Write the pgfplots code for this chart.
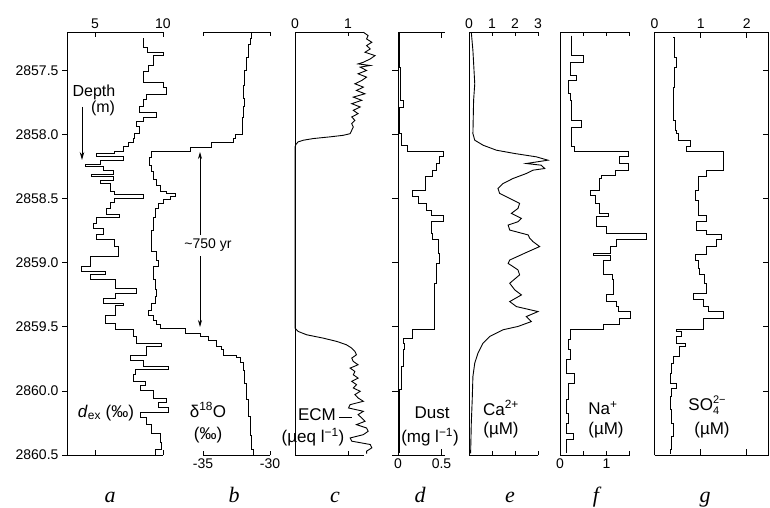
\documentclass[border=0pt]{standalone}
\usepackage{fontspec}
\setmainfont{Liberation Sans}
\newfontfamily\letterfont{Liberation Serif}
\usepackage{pgfplots}
\pgfplotsset{compat=1.18}
\usetikzlibrary{arrows.meta}

% one strip of the core: depth down, 1pt = 1px of the reference
\pgfplotsset{
  core/.style={
    scale only axis, height=423pt, anchor=south west,
    ymin=2857.2, ymax=2860.5, y dir=reverse,
    ytick={2857.5,2858,2858.5,2859,2859.5,2860,2860.5},
    yticklabels={},
    axis line style={draw=none},
    tick style={black, line width=0.8pt},
    major tick length=4pt,
    tick label style={font=\fontsize{14}{14}\selectfont},
    /pgf/number format/assume math mode=true,
    clip=false,
    every axis plot/.append style={black, line width=0.9pt, mark=none},
  },
}
\tikzset{
  frame/.style={line width=0.9pt},
  lab/.style={font=\fontsize{17}{19}\selectfont, inner sep=0pt},
  letter/.style={font=\letterfont\itshape\fontsize{22}{22}\selectfont, anchor=base, inner sep=0pt},
}
\newcommand\stripleft{\draw[frame] (rel axis cs:0,0) -- (rel axis cs:0,1);}
\newcommand\striptb{\draw[frame] (rel axis cs:0,0) -- (rel axis cs:1,0);
  \draw[frame] (rel axis cs:0,1) -- (rel axis cs:1,1);}

\begin{document}
\begin{tikzpicture}
\useasboundingbox (0,0) rectangle (770pt,507pt);

% a: deuterium excess
\begin{axis}[core, at={(67pt,52pt)}, width=96pt, xmin=2.94, xmax=10,
  xtick={5,10}, xticklabels={5,10}, xticklabel pos=upper,
  ytick pos=left, ytick align=outside, major tick length=5pt,
  yticklabels={2857.5,2858.0,2858.5,2859.0,2859.5,2860.0,2860.5}]
\stripleft \striptb
\addplot[const plot] coordinates {
(8.54,2857.25) (8.54,2857.32) (8.85,2857.36) (10.0,2857.385) (9.27,2857.46)
(8.90,2857.51) (8.54,2857.59) (10.0,2857.63) (10.24,2857.69) (8.78,2857.73)
(8.54,2857.78) (8.29,2857.83) (9.51,2857.87) (8.54,2857.90) (8.05,2857.94)
(8.29,2857.99) (7.93,2858.03) (7.80,2858.06) (7.44,2858.09) (7.07,2858.13)
(6.46,2858.15) (5.12,2858.17) (7.07,2858.20) (5.37,2858.23) (4.27,2858.25)
(5.61,2858.28) (6.34,2858.31) (4.76,2858.33) (6.34,2858.36) (5.37,2858.385)
(6.10,2858.44) (6.46,2858.47) (8.54,2858.50) (6.46,2858.53) (6.10,2858.58)
(5.85,2858.62) (6.83,2858.65) (5.12,2858.69) (4.88,2858.73) (5.61,2858.78)
(5.12,2858.82) (6.46,2858.87) (6.72,2858.95) (4.63,2859.03) (4.02,2859.07)
(5.74,2859.095) (4.63,2859.13) (6.47,2859.20) (8.06,2859.24) (6.47,2859.28)
(5.61,2859.32) (7.08,2859.33) (6.47,2859.41) (5.74,2859.47) (6.47,2859.52)
(7.82,2859.575) (8.06,2859.63) (9.90,2859.65) (8.80,2859.72) (7.57,2859.76)
(8.55,2859.81) (10.39,2859.835) (7.94,2859.87) (7.82,2859.925) (8.68,2859.96)
(8.31,2860.00) (9.29,2860.055) (10.27,2860.09) (9.66,2860.13) (10.39,2860.17)
(8.31,2860.21) (8.80,2860.26) (9.17,2860.33) (9.78,2860.40) (9.90,2860.46)
(9.41,2860.50)};
\end{axis}

% b: delta 18O
\begin{axis}[core, at={(203pt,52pt)}, width=67pt, xmin=-35, xmax=-30,
  xtick={-35,-30}, xticklabels={-35,-30}, xticklabel pos=lower, ytick=\empty]
\striptb
\addplot[const plot] coordinates {
(-31.37,2857.21) (-31.37,2857.25) (-31.49,2857.30) (-31.62,2857.40) (-31.74,2857.50)
(-31.87,2857.62) (-31.99,2857.72) (-31.87,2857.78) (-31.99,2857.87) (-32.05,2858.00)
(-32.61,2858.03) (-32.74,2858.06) (-34.35,2858.10) (-35.97,2858.13) (-38.83,2858.18)
(-38.96,2858.24) (-38.83,2858.29) (-38.71,2858.35) (-38.46,2858.40) (-38.21,2858.44)
(-37.70,2858.46) (-37.09,2858.48) (-37.46,2858.51) (-37.96,2858.54) (-38.33,2858.58)
(-38.58,2858.65) (-38.71,2858.75) (-38.83,2858.91) (-38.46,2858.98) (-38.33,2859.03)
(-38.71,2859.13) (-38.58,2859.21) (-38.46,2859.26) (-38.58,2859.32) (-38.83,2859.37)
(-39.08,2859.41) (-38.71,2859.45) (-38.46,2859.48) (-38.21,2859.51) (-36.34,2859.55)
(-35.22,2859.575) (-34.60,2859.61) (-33.98,2859.65) (-33.61,2859.68) (-33.48,2859.72)
(-32.49,2859.74) (-32.24,2859.78) (-31.99,2859.84) (-31.87,2859.94) (-31.74,2860.07)
(-31.62,2860.20) (-31.49,2860.35) (-31.37,2860.46) (-31.24,2860.50)};
\end{axis}

% c: ECM
\begin{axis}[core, at={(295pt,52pt)}, width=68.9pt, xmin=0, xmax=1.3,
  xtick={0,1}, xticklabels={0,1}, xticklabel pos=upper, ytick=\empty]
\stripleft \striptb
\addplot[sharp plot] coordinates {
(1.29,2857.202) (1.38,2857.228) (1.35,2857.254) (1.45,2857.280) (1.35,2857.306)
(1.42,2857.332) (1.32,2857.358) (1.51,2857.384) (1.42,2857.410) (1.29,2857.436)
(1.19,2857.449) (1.42,2857.461) (1.23,2857.474) (1.35,2857.500) (1.19,2857.526)
(1.35,2857.552) (1.26,2857.578) (1.13,2857.604) (1.29,2857.630) (1.16,2857.656)
(1.32,2857.682) (1.10,2857.708) (1.26,2857.733) (1.07,2857.759) (1.23,2857.785)
(1.10,2857.811) (1.19,2857.837) (1.07,2857.863) (1.13,2857.889) (1.07,2857.915)
(1.10,2857.941) (1.07,2857.967) (1.04,2857.993) (0.91,2858.006) (0.66,2858.018)
(0.35,2858.031) (0.16,2858.044) (0.06,2858.057) (0.02,2858.075) (0,2858.096)
(0,2859.51) (0.06,2859.536) (0.22,2859.562) (0.53,2859.588) (0.79,2859.614)
(0.97,2859.640) (1.07,2859.666) (1.13,2859.692) (1.16,2859.718) (1.07,2859.744)
(1.10,2859.770) (1.19,2859.796) (1.04,2859.822) (1.13,2859.848) (1.10,2859.874)
(1.19,2859.900) (1.07,2859.925) (1.16,2859.951) (1.10,2859.977) (1.23,2860.003)
(1.13,2860.029) (1.19,2860.055) (1.29,2860.081) (1.04,2860.107) (1.01,2860.133)
(1.29,2860.159) (1.19,2860.185) (1.26,2860.211) (1.32,2860.237) (1.16,2860.263)
(1.35,2860.289) (1.38,2860.315) (1.29,2860.341) (1.04,2860.367) (1.07,2860.392)
(1.42,2860.418) (1.45,2860.444) (1.35,2860.470) (1.35,2860.490)};
\end{axis}

% d: dust
\begin{axis}[core, at={(398pt,52pt)}, width=47pt, xmin=0, xmax=0.54,
  xtick={0,0.5}, xticklabels={0,0.5}, xticklabel pos=lower,
  ytick pos=left, ytick align=outside, major tick length=6pt]
\stripleft \striptb
\addplot[const plot] coordinates {
(0.02,2857.202) (0.02,2857.474) (0.027,2857.733) (0.057,2857.785) (0.02,2857.993)
(0.04,2858.083) (0.11,2858.135) (0.52,2858.174) (0.48,2858.226) (0.44,2858.278)
(0.40,2858.330) (0.31,2858.433) (0.17,2858.485) (0.23,2858.537) (0.33,2858.589)
(0.38,2858.628) (0.52,2858.680) (0.38,2858.771) (0.40,2858.822) (0.46,2858.926)
(0.48,2859.005) (0.44,2859.160) (0.42,2859.523) (0.17,2859.588) (0.06,2859.627)
(0.077,2859.679) (0.06,2859.809) (0.04,2859.990) (0.015,2860.488)};
\end{axis}

% e: calcium
\begin{axis}[core, at={(469pt,52pt)}, width=69pt, xmin=0, xmax=3,
  xtick={0,1,2,3}, xticklabels={0,1,2,3}, xticklabel pos=upper, ytick=\empty]
\stripleft \striptb
\addplot[sharp plot] coordinates {
(0.10,2857.202) (0.17,2857.345) (0.25,2857.604) (0.20,2857.733) (0.17,2857.993)
(0.25,2858.044) (0.61,2858.083) (1.19,2858.122) (1.99,2858.148) (2.93,2858.174)
(3.43,2858.200) (2.49,2858.226) (3.14,2858.239) (3.29,2858.265) (2.78,2858.278)
(2.49,2858.304) (1.91,2858.343) (1.48,2858.382) (1.26,2858.420) (1.33,2858.459)
(1.77,2858.498) (2.20,2858.537) (2.13,2858.576) (1.84,2858.615) (2.28,2858.654)
(2.13,2858.680) (1.70,2858.706) (1.77,2858.745) (2.57,2858.783) (2.64,2858.809)
(2.78,2858.835) (3.07,2858.874) (2.49,2858.920) (1.77,2858.979) (1.70,2859.005)
(2.13,2859.056) (2.20,2859.095) (1.77,2859.160) (1.99,2859.212) (2.28,2859.251)
(1.77,2859.303) (2.06,2859.342) (3.00,2859.381) (2.49,2859.420) (2.71,2859.459)
(2.13,2859.497) (1.48,2859.523) (0.90,2859.575) (0.61,2859.627) (0.39,2859.705)
(0.25,2859.783) (0.17,2859.887) (0.14,2860.068) (0.10,2860.250) (0.07,2860.488)};
\end{axis}

% f: sodium
\begin{axis}[core, at={(560pt,52pt)}, width=69.6pt, xmin=0, xmax=1.5,
  xtick={0,0.5,1,1.5}, xticklabels={0,,1,}, xticklabel pos=lower, ytick=\empty]
\stripleft \striptb
\addplot[const plot] coordinates {
(0.25,2857.228) (0.25,2857.384) (0.50,2857.436) (0.22,2857.539) (0.36,2857.578)
(0.18,2857.682) (0.22,2857.733) (0.25,2857.889) (0.47,2857.941) (0.25,2858.096)
(0.32,2858.135) (1.47,2858.174) (1.29,2858.226) (1.47,2858.278) (1.19,2858.317)
(0.90,2858.343) (0.86,2858.433) (0.65,2858.472) (0.76,2858.537) (0.86,2858.615)
(1.04,2858.641) (0.79,2858.719) (1.01,2858.771) (1.87,2858.822) (1.22,2858.874)
(1.08,2858.926) (0.72,2858.940) (1.08,2858.979) (0.94,2859.095) (1.12,2859.134)
(1.15,2859.251) (1.01,2859.303) (1.22,2859.342) (1.26,2859.381) (1.51,2859.433)
(1.29,2859.484) (0.94,2859.523) (0.22,2859.601) (0.18,2859.679) (0.22,2859.757)
(0.14,2859.861) (0.32,2859.938) (0.18,2860.068) (0.14,2860.172) (0.18,2860.250)
(0.14,2860.328) (0.29,2860.380) (0.14,2860.488)};
\end{axis}

% g: sulphate
\begin{axis}[core, at={(654.5pt,52pt)}, width=114pt, xmin=0, xmax=2.47,
  xtick={0,1,2}, xticklabels={0,1,2}, xticklabel pos=upper,
  ytick pos=right, major tick length=6pt]
\stripleft \striptb
\draw[frame] (rel axis cs:1,0) -- (rel axis cs:1,1);
\addplot[const plot] coordinates {
(0.41,2857.241) (0.41,2857.241) (0.44,2857.397) (0.48,2857.474) (0.44,2857.630)
(0.41,2857.889) (0.46,2857.967) (0.48,2857.993) (0.52,2858.044) (0.77,2858.096)
(0.70,2858.135) (1.49,2858.278) (1.13,2858.330) (0.95,2858.433) (0.88,2858.511)
(0.95,2858.628) (1.13,2858.680) (0.91,2858.745) (1.13,2858.783) (1.45,2858.822)
(1.35,2858.874) (1.13,2858.939) (0.88,2858.979) (0.95,2859.043) (0.98,2859.095)
(1.09,2859.160) (1.13,2859.238) (0.84,2859.290) (1.06,2859.342) (1.17,2859.381)
(1.49,2859.433) (1.06,2859.523) (0.48,2859.536) (0.59,2859.575) (0.48,2859.627)
(0.66,2859.653) (0.55,2859.731) (0.41,2859.783) (0.37,2859.861) (0.34,2859.938)
(0.48,2859.977) (0.37,2860.042) (0.34,2860.146) (0.37,2860.250) (0.41,2860.354)
(0.37,2860.457) (0.34,2860.496)};
\end{axis}

% labels inside the strips
\node[lab, font=\fontsize{16}{18}\selectfont] at (94pt,415pt) {Depth};
\node[lab, font=\fontsize{16}{18}\selectfont] at (103pt,399pt) {(m)};
\draw[line width=0.8pt, -{Stealth[length=8pt,width=4.5pt]}] (82pt,400pt) -- (82pt,347pt);
\node[lab] at (106pt,94pt) {\textit{d}\textsubscript{ex} (‰)};
\node[lab] at (208pt,97pt) {δ\textsuperscript{18}O};
\node[lab] at (208pt,72pt) {(‰)};
\node[lab, font=\fontsize{14}{16}\selectfont, fill=white, inner sep=2pt] at (208pt,262pt) {\textasciitilde750 yr};
\draw[line width=0.7pt, -{Stealth[length=7pt,width=4pt]}] (200pt,272pt) -- (200pt,355pt);
\draw[line width=0.7pt, -{Stealth[length=7pt,width=4pt]}] (200pt,251pt) -- (200pt,180pt);
\node[lab] at (317pt,92pt) {ECM};
\draw[line width=0.8pt] (339pt,90pt) -- (352pt,90pt);
\node[lab] at (313pt,70pt) {(µeq l\textsuperscript{−1})};
\node[lab] at (432pt,94pt) {Dust};
\node[lab] at (430pt,70pt) {(mg l\textsuperscript{−1})};
\node[lab] at (501pt,99pt) {Ca\textsuperscript{2+}};
\node[lab] at (501pt,77pt) {(µM)};
\node[lab] at (603pt,99pt) {Na\textsuperscript{+}};
\node[lab] at (606pt,77pt) {(µM)};
\node[lab] at (707pt,102pt) {SO\rlap{\raisebox{-4.5pt}{\fontsize{11}{11}\selectfont 4}}\raisebox{7pt}{\fontsize{11}{11}\selectfont 2−}};
\node[lab] at (712pt,77pt) {(µM)};

% strip letters
\node[letter] at (110pt,5pt) {a};
\node[letter] at (234pt,5pt) {b};
\node[letter] at (335pt,5pt) {c};
\node[letter] at (420pt,5pt) {d};
\node[letter] at (510pt,5pt) {e};
\node[letter] at (596pt,5pt) {f};
\node[letter] at (705pt,5pt) {g};
\end{tikzpicture}
\end{document}
